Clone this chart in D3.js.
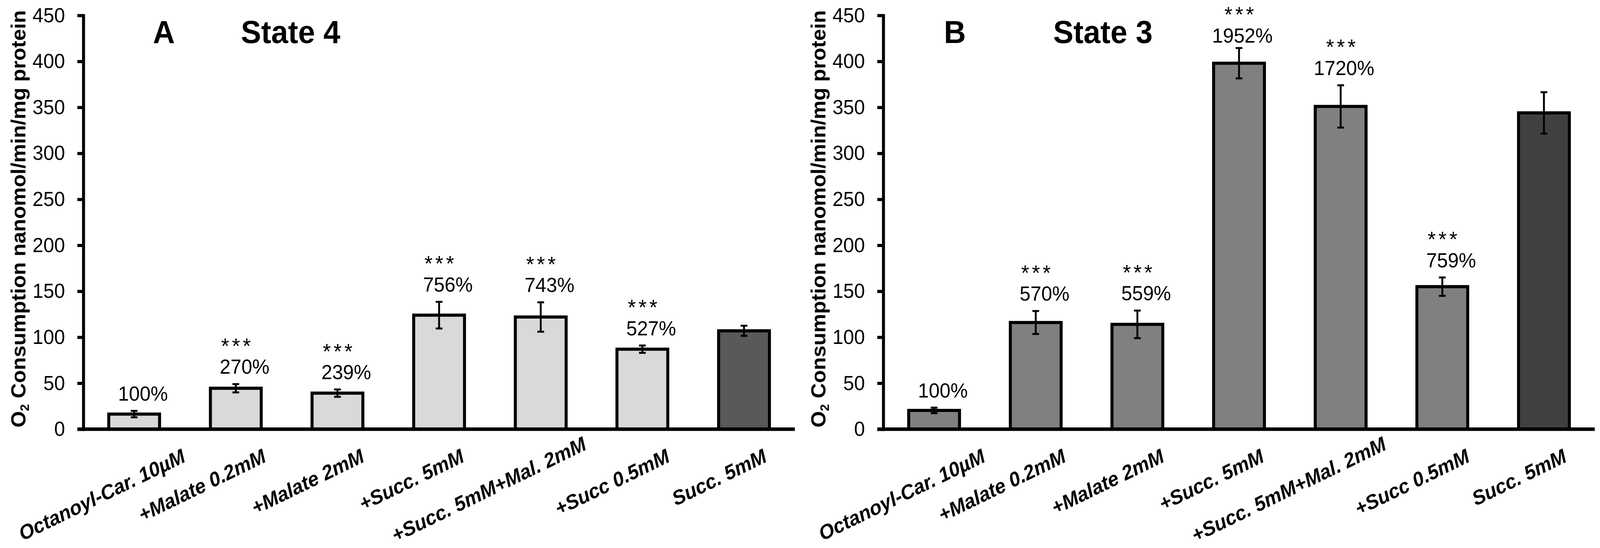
<!DOCTYPE html>
<html>
<head>
<meta charset="utf-8">
<script src="https://cdn.jsdelivr.net/npm/d3@7"></script>
<style>
  html, body { margin: 0; padding: 0; background: #ffffff; overflow: hidden; }
  svg { display: block; width: 100vw; height: 100vh; }
</style>
</head>
<body>
<svg id="chart" viewBox="0 0 4275 1402" preserveAspectRatio="none"></svg>
<script>
(() => {

// chart data
const categories = ['Octanoyl-Car. 10\u00b5M', '+Malate 0.2mM', '+Malate 2mM', '+Succ. 5mM',
    '+Succ. 5mM+Mal. 2mM', '+Succ 0.5mM', 'Succ. 5mM'];

const state4_values = [16.4, 44.5, 39.2, 124, 122, 87, 107];
const state4_errors = [3.5, 4.5, 4, 14.5, 16, 4, 5.5];
const state4_percent = ['100%', '270%', '239%', '756%', '743%', '527%', ''];
const state4_stars = ['', '***', '***', '***', '***', '***', ''];

const state3_values = [20.4, 116, 114, 398, 351, 155, 344];
const state3_errors = [3, 12.5, 15, 16.5, 23, 10, 22.5];
const state3_percent = ['100%', '570%', '559%', '1952%', '1720%', '759%', ''];
const state3_stars = ['', '***', '***', '***', '***', '***', ''];

const y_ticks = [0, 50, 100, 150, 200, 250, 300, 350, 400, 450];

// layout
const font = '"Liberation Sans", Arial, Helvetica, sans-serif';
const plot_top = 39.4;
const plot_bottom = 1098;
const plot_width = 1901;
const label_angle = 25;
const label_size = 52;
const star_size = 56;
const star_gap = 66;

let svg = d3.select('#chart');

svg.append('rect')
    .attr('width', 4275)
    .attr('height', 1402)
    .attr('fill', '#ffffff');

let y_scale = d3.scaleLinear()
    .domain([0, 450])
    .range([plot_bottom, plot_top]);

function draw_panel(p) {

    let g = svg.append('g');

    let x_scale = d3.scaleBand()
        .domain(categories)
        .range([p.axis_x, p.axis_x + plot_width])
        .paddingInner(0.5)
        .paddingOuter(0.25);

    let rows = categories.map((c, i) => ({
        cat: c,
        value: p.values[i],
        err: p.errors[i],
        percent: p.percent[i],
        stars: p.stars[i],
        fill: i == categories.length - 1 ? p.last_fill : p.fill
    }));

    // bars
    g.append('g')
        .selectAll('rect')
        .data(rows)
        .enter()
        .append('rect')
            .attr('x', (d) => x_scale(d.cat))
            .attr('y', (d) => y_scale(d.value))
            .attr('width', x_scale.bandwidth())
            .attr('height', (d) => y_scale(0) - y_scale(d.value))
            .attr('fill', (d) => d.fill)
            .attr('stroke', '#000')
            .attr('stroke-width', 8);

    // error bars
    let cx = (d) => x_scale(d.cat) + x_scale.bandwidth() / 2;
    let err = g.append('g')
        .attr('stroke', '#000')
        .attr('stroke-width', 5)
        .selectAll('g')
        .data(rows)
        .enter()
        .append('g');

    err.append('line')
        .attr('x1', cx).attr('x2', cx)
        .attr('y1', (d) => y_scale(d.value + d.err))
        .attr('y2', (d) => y_scale(d.value - d.err));
    err.append('line')
        .attr('x1', (d) => cx(d) - 9).attr('x2', (d) => cx(d) + 9)
        .attr('y1', (d) => y_scale(d.value + d.err))
        .attr('y2', (d) => y_scale(d.value + d.err));
    err.append('line')
        .attr('x1', (d) => cx(d) - 9).attr('x2', (d) => cx(d) + 9)
        .attr('y1', (d) => y_scale(d.value - d.err))
        .attr('y2', (d) => y_scale(d.value - d.err));

    // y axis
    let y_axis = d3.axisLeft(y_scale)
        .tickValues(y_ticks)
        .tickSize(16)
        .tickSizeOuter(0)
        .tickPadding(33);

    let ax = g.append('g')
        .attr('transform', `translate(${p.axis_x}, 0)`)
        .call(y_axis);
    ax.select('.domain')
        .attr('stroke', '#000')
        .attr('stroke-width', 8)
        .attr('stroke-linecap', 'square');
    ax.selectAll('.tick line')
        .attr('stroke', '#000')
        .attr('stroke-width', 8);
    ax.selectAll('.tick text')
        .attr('fill', '#000')
        .style('font-family', font)
        .style('font-size', '52px');

    // x baseline
    g.append('line')
        .attr('x1', p.axis_x - 16)
        .attr('x2', p.axis_x + plot_width)
        .attr('y1', y_scale(0))
        .attr('y2', y_scale(0))
        .attr('stroke', '#000')
        .attr('stroke-width', 9);

    // category labels, rotated
    let rad = label_angle * Math.PI / 180;
    let cap = 0.72 * label_size;
    g.append('g')
        .selectAll('text')
        .data(rows)
        .enter()
        .append('text')
            .text((d) => d.cat)
            .attr('text-anchor', 'middle')
            .attr('dy', '0.36em')
            .style('font-family', font)
            .style('font-size', label_size + 'px')
            .style('font-weight', 'bold')
            .style('font-style', 'italic')
            .each(function(d) {
                let len = this.getComputedTextLength();
                let w = len * Math.cos(rad) + cap * Math.sin(rad);
                let h = len * Math.sin(rad) + cap * Math.cos(rad);
                let tx = Math.max(cx(d) - 0.246 * len, p.axis_x - 178 + w / 2);
                let top = 1146;
                if (top + h > 1388) top = 1388 - h;
                d3.select(this).attr('transform',
                    `translate(${tx}, ${top + h / 2}) rotate(${-label_angle})`);
            });

    // percent and significance labels (pushed down if the stars would leave the picture)
    let ann = rows.filter((d) => d.percent != '');
    let pct_center = (d) => Math.max(y_scale(d.value + d.err) - 45, 24 + star_gap);

    g.append('g')
        .selectAll('text')
        .data(ann)
        .enter()
        .append('text')
            .text((d) => d.percent)
            .attr('x', (d) => cx(d) + 90)
            .attr('y', (d) => pct_center(d) + 18.7)
            .attr('text-anchor', 'end')
            .style('font-family', font)
            .style('font-size', '52px');

    g.append('g')
        .selectAll('text')
        .data(ann.filter((d) => d.stars != ''))
        .enter()
        .append('text')
            .text((d) => d.stars)
            .attr('x', (d) => cx(d) + 4)
            .attr('y', (d) => pct_center(d) - star_gap + 0.575 * star_size)
            .attr('text-anchor', 'middle')
            .style('font-family', font)
            .style('font-size', star_size + 'px')
            .style('letter-spacing', '7px');

    // y axis title
    let yt = g.append('text')
        .attr('transform', `translate(${p.axis_x - 155}, 560) rotate(-90)`)
        .attr('text-anchor', 'middle')
        .style('font-family', font)
        .style('font-size', '54px')
        .style('font-weight', 'bold');
    yt.append('tspan').text('O');
    yt.append('tspan').text('2').style('font-size', '32px').attr('dy', 10);
    yt.append('tspan').text(' Consumption nanomol/min/mg protein').attr('dy', -10);

    // panel letter and title
    g.append('text')
        .attr('x', p.axis_x + p.letter_dx)
        .attr('y', 110)
        .text(p.letter)
        .style('font-family', font)
        .style('font-size', '81px')
        .style('font-weight', 'bold');
    g.append('text')
        .attr('x', p.axis_x + p.title_dx)
        .attr('y', 110)
        .text(p.title)
        .style('font-family', font)
        .style('font-size', '81px')
        .style('font-weight', 'bold');
}

draw_panel({
    axis_x: 222.7, values: state4_values, errors: state4_errors,
    percent: state4_percent, stars: state4_stars,
    fill: '#d9d9d9', last_fill: '#595959',
    letter: 'A', letter_dx: 186, title: 'State 4', title_dx: 421
});

draw_panel({
    axis_x: 2360, values: state3_values, errors: state3_errors,
    percent: state3_percent, stars: state3_stars,
    fill: '#808080', last_fill: '#404040',
    letter: 'B', letter_dx: 162, title: 'State 3', title_dx: 454
});

})();
</script>
</body>
</html>
